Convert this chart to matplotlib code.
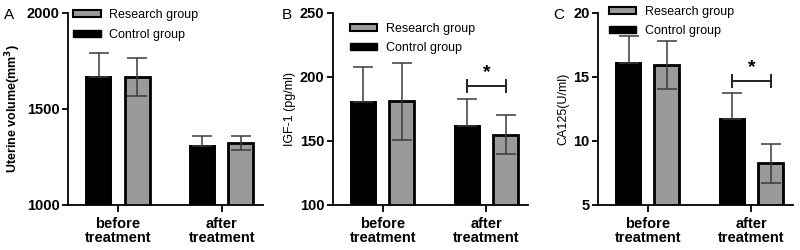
import matplotlib
matplotlib.use("Agg")
import matplotlib.pyplot as plt
from matplotlib.patches import Patch

plt.rcParams.update({
    "font.family": ["Liberation Sans", "DejaVu Sans"],
    "axes.linewidth": 1.3,
    "xtick.major.width": 1.3,
    "ytick.major.width": 1.3,
    "xtick.major.size": 5,
    "ytick.major.size": 4,
})

GROUPS = ["before\ntreatment", "after\ntreatment"]
SERIES = ["Research group", "Control group"]

# panel A - uterine volume
A_ctrl = [1667, 1309]
A_ctrl_sd = [125, 52]
A_res = [1667, 1321]
A_res_sd = [100, 36]

# panel B - IGF-1
B_ctrl = [180.5, 162]
B_ctrl_sd = [27, 20.5]
B_res = [181, 155]
B_res_sd = [30, 15.5]

# panel C - CA125
C_ctrl = [16.1, 11.75]
C_ctrl_sd = [2.1, 2.0]
C_res = [15.95, 8.25]
C_res_sd = [1.9, 1.55]

PANELS = [
    # letter, ylabel, bold ylabel, ctrl, ctrl_sd, res, res_sd, ylim, yticks, bracket y
    ("A", "Uterine volume(mm$^\\mathbf{3}$)", True, A_ctrl, A_ctrl_sd, A_res, A_res_sd,
     (1000, 2000), [1000, 1500, 2000], None),
    ("B", "IGF-1 (pg/ml)", False, B_ctrl, B_ctrl_sd, B_res, B_res_sd,
     (100, 250), [100, 150, 200, 250], 193),
    ("C", "CA125(U/ml)", False, C_ctrl, C_ctrl_sd, C_res, C_res_sd,
     (5, 20), [5, 10, 15, 20], 14.7),
]

AX_POS = [
    [0.085, 0.18, 0.244, 0.768],
    [0.416, 0.18, 0.244, 0.768],
    [0.7475, 0.18, 0.2435, 0.768],
]
LEG_POS = [(0.0, 1.045), (0.06, 0.975), (0.03, 1.065)]
LETTER_X = [0.005, 0.352, 0.692]

GRAY = "#9a9a9a"
OFF = 0.185
W = 0.24

fig = plt.figure(figsize=(8, 2.5), dpi=100)

for i, (letter, ylabel, ybold, ctrl, csd, res, rsd, ylim, yticks, brk) in enumerate(PANELS):
    ax = fig.add_axes(AX_POS[i])
    x = [0, 1]
    xc = [v - OFF for v in x]
    xr = [v + OFF for v in x]
    ax.bar(xc, ctrl, W, color="black", edgecolor="black", linewidth=1.4, zorder=2)
    ax.bar(xr, res, W, color=GRAY, edgecolor="black", linewidth=2.0, zorder=2)
    # control bars hide the lower half of their error bars
    ax.errorbar(xc, ctrl, yerr=[[0, 0], csd], fmt="none", ecolor="#3a3a3a", elinewidth=1.1,
                capsize=7, capthick=1.1, zorder=3)
    ax.errorbar(xr, res, yerr=rsd, fmt="none", ecolor="#3a3a3a", elinewidth=1.1,
                capsize=7.5, capthick=1.1, zorder=3)

    ax.set_ylim(*ylim)
    ax.set_yticks(yticks)
    ax.set_xlim(-0.48, 1.40)
    ax.set_xticks(x)
    ax.set_xticklabels(GROUPS, fontsize=10.5, fontweight="bold", linespacing=1.0)
    ax.tick_params(axis="y", labelsize=10.5, pad=2)
    for t in ax.get_yticklabels():
        t.set_fontweight("bold")
    ax.spines["top"].set_visible(False)
    ax.spines["right"].set_visible(False)
    ax.set_ylabel(ylabel, fontsize=9, fontweight="bold" if ybold else "normal", labelpad=3)

    if brk is not None:
        span = ylim[1] - ylim[0]
        h = span * 0.03
        ax.plot([xc[1], xr[1]], [brk, brk], color="#222222", lw=1.4, zorder=4)
        for xx in (xc[1], xr[1]):
            ax.plot([xx, xx], [brk - h, brk + h], color="#222222", lw=1.4, zorder=4)
        ax.text(1, brk + span * 0.025, "*", ha="center", va="bottom",
                fontsize=14, fontweight="bold")

    handles = [
        Patch(facecolor=GRAY, edgecolor="black", linewidth=1.5, label=SERIES[0]),
        Patch(facecolor="black", edgecolor="black", label=SERIES[1]),
    ]
    ax.legend(handles=handles, loc="upper left", bbox_to_anchor=LEG_POS[i],
              frameon=False, fontsize=9, handlelength=2.2, handleheight=0.5,
              labelspacing=0.6, handletextpad=0.7, borderaxespad=0)

    fig.text(LETTER_X[i], 0.925, letter, fontsize=11)

fig.savefig("out.png", dpi=100)
